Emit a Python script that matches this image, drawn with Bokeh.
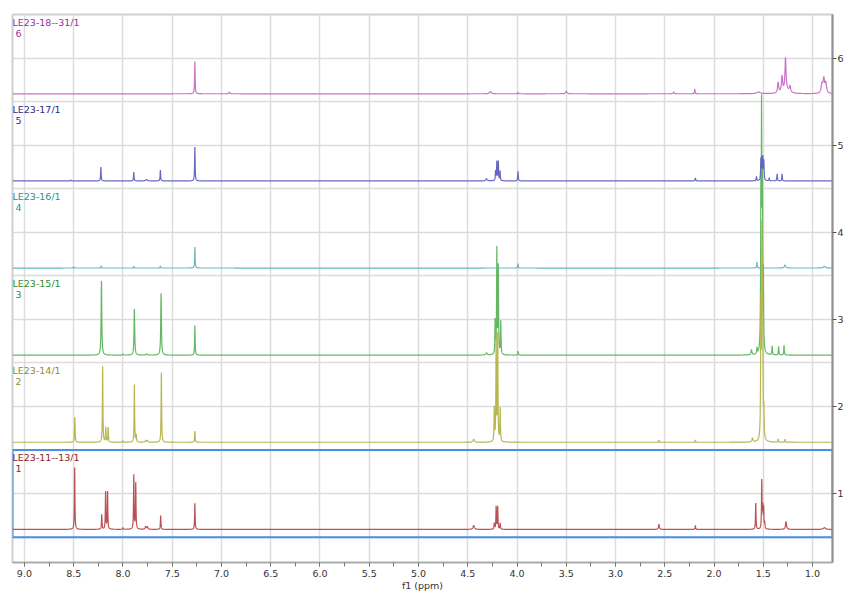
import numpy as np
from bokeh.plotting import figure
from bokeh.models import Range1d, SingleIntervalTicker, FixedTicker, PrintfTickFormatter
from bokeh.embed import file_html
from bokeh.resources import INLINE
from bokeh.core.properties import value

# ---------------- data ----------------
TRACE_NUMBERS = [1, 2, 3, 4, 5, 6]
SAMPLE_NAMES = ["LE23-11--13/1", "LE23-14/1", "LE23-15/1",
                "LE23-16/1", "LE23-17/1", "LE23-18--31/1"]
PPM_RANGE = [9.121, 0.798]          # reversed chemical-shift axis
Y_TICKS = [1, 2, 3, 4, 5, 6]
BASELINE_SHIFT = 0.41                # baseline sits this far below the trace number
DEFAULT_HWHM = 0.003

# peak lists: (shift ppm, height in trace units, half-width ppm or None)
SPEC_1 = [(8.490, 0.71, None), (8.215, 0.17, None), (8.176, 0.43, None), (8.156, 0.43, None),
          (8.000, 0.02, None), (7.890, 0.62, None), (7.870, 0.53, None), (7.770, 0.03, 0.006),
          (7.752, 0.03, 0.006), (7.617, 0.16, None), (7.270, 0.30, None), (4.440, 0.045, 0.008),
          (4.231, 0.07, None), (4.212, 0.26, None), (4.196, 0.26, None), (4.171, 0.07, None),
          (2.560, 0.06, 0.005), (2.190, 0.045, None), (1.577, 0.30, None), (1.516, 0.55, None),
          (1.506, 0.24, None), (1.497, 0.24, None), (1.486, 0.07, None), (1.270, 0.09, 0.006),
          (0.880, 0.02, 0.012)]
SPEC_2 = [(8.488, 0.29, None), (8.206, 0.87, None), (8.174, 0.17, None), (8.150, 0.17, None),
          (8.000, 0.02, None), (7.884, 0.66, None), (7.865, 0.08, None), (7.770, 0.02, 0.006),
          (7.752, 0.02, 0.006), (7.610, 0.80, None), (7.270, 0.13, None), (4.440, 0.035, 0.008),
          (4.231, 0.38, None), (4.212, 1.22, None), (4.196, 1.22, None), (4.171, 0.38, None),
          (2.560, 0.025, None), (2.190, 0.025, None), (1.610, 0.045, 0.006), (1.525, 1.50, None),
          (1.515, 2.20, None), (1.507, 1.80, None), (1.495, 0.30, None), (1.350, 0.035, None),
          (1.280, 0.035, None)]
SPEC_3 = [(8.218, 0.85, 0.004), (8.000, 0.015, None), (7.884, 0.53, 0.004), (7.760, 0.015, 0.006),
          (7.613, 0.71, 0.004), (7.270, 0.34, None), (4.310, 0.025, 0.008), (4.222, 0.38, None),
          (4.205, 1.20, None), (4.190, 1.00, None), (4.165, 0.38, None), (3.990, 0.045, None),
          (1.620, 0.06, 0.005), (1.565, 0.07, None), (1.525, 1.60, None), (1.518, 2.50, None),
          (1.510, 1.80, None), (1.500, 0.80, None), (1.410, 0.10, None), (1.345, 0.10, None),
          (1.290, 0.11, None)]
SPEC_4 = [(8.500, 0.015, None), (8.220, 0.025, None), (7.890, 0.02, None), (7.620, 0.025, None),
          (7.270, 0.24, None), (4.200, 0.02, None), (3.990, 0.05, None), (1.565, 0.07, None),
          (1.520, 0.05, None), (1.280, 0.035, 0.008), (0.880, 0.02, 0.012)]
SPEC_5 = [(8.530, 0.012, None), (8.224, 0.16, None), (7.890, 0.10, None), (7.760, 0.015, 0.01),
          (7.620, 0.125, None), (7.270, 0.39, None), (4.310, 0.025, 0.008), (4.218, 0.11, None),
          (4.205, 0.22, None), (4.190, 0.22, None), (4.172, 0.11, None), (3.990, 0.11, None),
          (2.190, 0.035, None), (1.570, 0.05, None), (1.525, 0.24, None), (1.515, 0.25, None),
          (1.505, 0.25, None), (1.495, 0.22, None), (1.440, 0.035, None), (1.360, 0.08, None),
          (1.310, 0.08, None)]
SPEC_6 = [(7.270, 0.37, None), (6.920, 0.02, 0.006), (4.270, 0.025, 0.01), (3.990, 0.015, None),
          (3.500, 0.03, 0.008), (2.410, 0.02, 0.006), (2.196, 0.055, None), (1.550, 0.02, 0.02),
          (1.350, 0.12, 0.007), (1.310, 0.18, 0.007), (1.275, 0.36, 0.006), (1.270, 0.05, 0.03),
          (1.230, 0.07, 0.008), (0.905, 0.10, 0.009), (0.886, 0.16, 0.009), (0.866, 0.11, 0.009)]
SPECTRA = [SPEC_1, SPEC_2, SPEC_3, SPEC_4, SPEC_5, SPEC_6]

LINE_COLORS = ["#b5494c", "#b3b347", "#5cb35c", "#63b5b5", "#5f5fbf", "#c66ac6"]
LABEL_COLORS = ["#8e1c1c", "#8f8f1f", "#2e8f2e", "#2e8f8f", "#2b2b86", "#9b2f9b"]
DRAW_ORDER = [2, 3, 1, 0, 5, 4]      # indexes into the lists above

# ---------------- figure ----------------
p = figure(width=846, height=593, output_backend="svg", toolbar_location=None,
           x_range=Range1d(*PPM_RANGE), y_range=Range1d(0.21, 6.5),
           y_axis_location="right", min_border_left=12, min_border_top=14,
           min_border_right=0, min_border_bottom=0)
p.background_fill_color = "white"
p.border_fill_color = "white"
p.outline_line_color = "#cfcfcf"
p.outline_line_width = 2

# grid
p.xgrid.ticker = SingleIntervalTicker(interval=0.5)
p.xgrid.grid_line_color = "#dcdcdc"
p.xgrid.grid_line_width = 1.5
grid_y = sorted([k - 0.5 for k in TRACE_NUMBERS] + list(Y_TICKS))
p.ygrid.ticker = FixedTicker(ticks=grid_y)
p.ygrid.grid_line_color = "#dcdcdc"
p.ygrid.grid_line_width = 1.5

# x axis
xa = p.xaxis[0]
xa.ticker = SingleIntervalTicker(interval=0.5, num_minor_ticks=2)
xa.formatter = PrintfTickFormatter(format="%.1f")
xa.axis_label = "f1 (ppm)"
xa.axis_label_text_font = "DejaVu Sans"
xa.axis_label_text_font_size = "9.5px"
xa.axis_label_text_font_style = "normal"
xa.axis_label_text_color = "#333333"
xa.axis_label_standoff = 0
xa.major_label_text_font = "DejaVu Sans"
xa.major_label_text_font_size = "9.5px"
xa.major_label_text_color = "#333333"
xa.major_label_standoff = 3
xa.axis_line_color = "#a8a8a8"
xa.axis_line_width = 1.5
xa.major_tick_line_color = "#777777"
xa.minor_tick_line_color = "#777777"
xa.major_tick_in = 0
xa.major_tick_out = 4
xa.minor_tick_in = 0
xa.minor_tick_out = 4

# right axis
ya = p.yaxis[0]
ya.ticker = FixedTicker(ticks=Y_TICKS)
ya.major_label_text_font = "DejaVu Sans"
ya.major_label_text_font_size = "9.5px"
ya.major_label_text_color = "#333333"
ya.major_label_standoff = 1
ya.axis_line_color = "#8f8f8f"
ya.axis_line_width = 2
ya.major_tick_line_color = "#555555"
ya.major_tick_in = 0
ya.major_tick_out = 4
ya.minor_tick_line_color = None

# ---------------- spectra ----------------
all_shifts = [s for spec in SPECTRA for (s, _, _) in spec]
x = np.unique(np.concatenate([np.arange(PPM_RANGE[1], PPM_RANGE[0], 0.001), all_shifts]))

for i in DRAW_ORDER:
    base = TRACE_NUMBERS[i] - BASELINE_SHIFT
    y = np.full_like(x, base)
    for (s, h, w) in SPECTRA[i]:
        w = DEFAULT_HWHM if w is None else w
        y += h / (1.0 + ((x - s) / w) ** 2)
    p.line(x, y, line_color=LINE_COLORS[i], line_width=1.2, line_alpha=0.95)

# selection box around trace 1
sel = TRACE_NUMBERS[0]
p.quad(left=[PPM_RANGE[0]], right=[PPM_RANGE[1]], bottom=[sel - 0.5], top=[sel + 0.5],
       fill_alpha=0, line_color="#4a90e2", line_width=2)

# labels
p.text(x=[PPM_RANGE[0]] * len(SAMPLE_NAMES), y=[k + 0.5 for k in TRACE_NUMBERS],
       text=SAMPLE_NAMES, text_color=LABEL_COLORS, text_font=value("DejaVu Sans"),
       text_font_size="9.5px", text_baseline="top", text_align="left", y_offset=2)
p.text(x=[PPM_RANGE[0]] * len(TRACE_NUMBERS), y=[k + 0.5 for k in TRACE_NUMBERS],
       text=[str(k) for k in TRACE_NUMBERS], text_color=LABEL_COLORS,
       text_font=value("DejaVu Sans"), text_font_size="9.5px",
       text_baseline="top", text_align="left", x_offset=3, y_offset=15)

open("out.html", "w").write(file_html(p, INLINE))
